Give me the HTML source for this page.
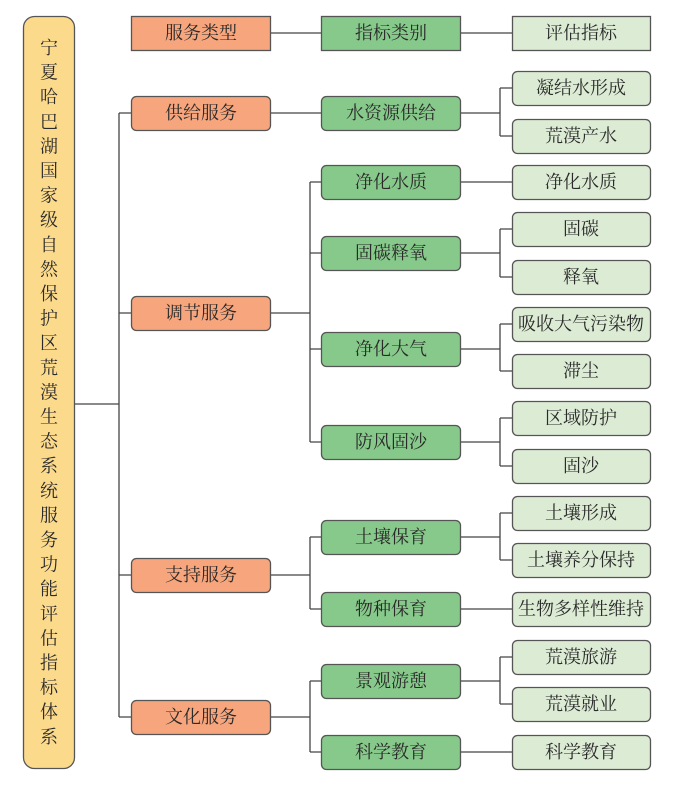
<!DOCTYPE html>
<html><head><meta charset="utf-8"><style>
html,body{margin:0;padding:0;background:#fff;width:684px;height:787px;overflow:hidden}
svg text{font-family:"Liberation Serif","Noto Serif CJK SC","Noto Sans CJK SC",serif;font-size:18px;fill:#2a2a2a;text-anchor:middle;dominant-baseline:central}
</style></head><body>
<svg width="684" height="787" viewBox="0 0 684 787" xmlns="http://www.w3.org/2000/svg">
<g stroke="#444" stroke-width="1.3" fill="none">
<path d="M74 404H119M119 113V717M119 113H131M119 313H131M119 575H131M119 717H131"/>
<path d="M270 33H321M460 33H512"/>
<path d="M270 113H321M460 113H500M500 88V136M500 88H512M500 136H512"/>
<path d="M270 313H310M310 182V442M310 182H321M310 253H321M310 349H321M310 442H321"/>
<path d="M460 182H512"/>
<path d="M460 253H500M500 229V277M500 229H512M500 277H512"/>
<path d="M460 349H500M500 324V371M500 324H512M500 371H512"/>
<path d="M460 442H500M500 418V466M500 418H512M500 466H512"/>
<path d="M270 575H310M310 537V609M310 537H321M310 609H321"/>
<path d="M460 537H500M500 513V560M500 513H512M500 560H512"/>
<path d="M460 609H512"/>
<path d="M270 717H310M310 681V752M310 681H321M310 752H321"/>
<path d="M460 681H500M500 657V704M500 657H512M500 704H512"/>
<path d="M460 752H512"/>
</g>
<rect x="23.5" y="16.5" width="51" height="752" rx="11" fill="#fcda8c" stroke="#555" stroke-width="1.3"/>
<g stroke="#555" stroke-width="1.3">
<rect x="131.5" y="16.5" width="139" height="34" fill="#f6a57c"/>
<rect x="321.5" y="16.5" width="139" height="34" fill="#86c98a"/>
<rect x="512.5" y="16.5" width="138" height="34" fill="#dcebd4"/>
<g fill="#f6a57c">
<rect x="131.5" y="96.5" width="139" height="34" rx="5"/>
<rect x="131.5" y="296.5" width="139" height="34" rx="5"/>
<rect x="131.5" y="558.5" width="139" height="34" rx="5"/>
<rect x="131.5" y="700.5" width="139" height="34" rx="5"/>
</g>
<g fill="#86c98a">
<rect x="321.5" y="96.5" width="139" height="34" rx="5"/>
<rect x="321.5" y="165.5" width="139" height="34" rx="5"/>
<rect x="321.5" y="236.5" width="139" height="34" rx="5"/>
<rect x="321.5" y="332.5" width="139" height="34" rx="5"/>
<rect x="321.5" y="425.5" width="139" height="34" rx="5"/>
<rect x="321.5" y="520.5" width="139" height="34" rx="5"/>
<rect x="321.5" y="592.5" width="139" height="34" rx="5"/>
<rect x="321.5" y="664.5" width="139" height="34" rx="5"/>
<rect x="321.5" y="735.5" width="139" height="34" rx="5"/>
</g>
<g fill="#dcebd4">
<rect x="512.5" y="71.5" width="138" height="34" rx="5"/>
<rect x="512.5" y="119.5" width="138" height="34" rx="5"/>
<rect x="512.5" y="165.5" width="138" height="34" rx="5"/>
<rect x="512.5" y="212.5" width="138" height="34" rx="5"/>
<rect x="512.5" y="260.5" width="138" height="34" rx="5"/>
<rect x="512.5" y="307.5" width="138" height="34" rx="5"/>
<rect x="512.5" y="354.5" width="138" height="34" rx="5"/>
<rect x="512.5" y="401.5" width="138" height="34" rx="5"/>
<rect x="512.5" y="449.5" width="138" height="34" rx="5"/>
<rect x="512.5" y="496.5" width="138" height="34" rx="5"/>
<rect x="512.5" y="543.5" width="138" height="34" rx="5"/>
<rect x="512.5" y="592.5" width="138" height="34" rx="5"/>
<rect x="512.5" y="640.5" width="138" height="34" rx="5"/>
<rect x="512.5" y="687.5" width="138" height="34" rx="5"/>
<rect x="512.5" y="735.5" width="138" height="34" rx="5"/>
</g>
</g>
<g>
<text x="201" y="33">服务类型</text><text x="391" y="33">指标类别</text><text x="581" y="33">评估指标</text>
<text x="201" y="113">供给服务</text><text x="201" y="313">调节服务</text><text x="201" y="575">支持服务</text><text x="201" y="717">文化服务</text>
<text x="391" y="113">水资源供给</text><text x="391" y="182">净化水质</text><text x="391" y="253">固碳释氧</text><text x="391" y="349">净化大气</text><text x="391" y="442">防风固沙</text><text x="391" y="537">土壤保育</text><text x="391" y="609">物种保育</text><text x="391" y="681">景观游憩</text><text x="391" y="752">科学教育</text>
<text x="581" y="88">凝结水形成</text><text x="581" y="136">荒漠产水</text><text x="581" y="182">净化水质</text><text x="581" y="229">固碳</text><text x="581" y="277">释氧</text><text x="581" y="324">吸收大气污染物</text><text x="581" y="371">滞尘</text><text x="581" y="418">区域防护</text><text x="581" y="466">固沙</text><text x="581" y="513">土壤形成</text><text x="581" y="560">土壤养分保持</text><text x="581" y="609">生物多样性维持</text><text x="581" y="657">荒漠旅游</text><text x="581" y="704">荒漠就业</text><text x="581" y="752">科学教育</text>
</g>
<g style="font-size:20px">
<text x="49" y="48">宁</text><text x="49" y="72.6">夏</text><text x="49" y="97.2">哈</text><text x="49" y="121.8">巴</text><text x="49" y="146.4">湖</text><text x="49" y="171">国</text><text x="49" y="195.6">家</text><text x="49" y="220.2">级</text><text x="49" y="244.8">自</text><text x="49" y="269.4">然</text><text x="49" y="294">保</text><text x="49" y="318.6">护</text><text x="49" y="343.2">区</text><text x="49" y="367.8">荒</text><text x="49" y="392.4">漠</text><text x="49" y="417">生</text><text x="49" y="441.6">态</text><text x="49" y="466.2">系</text><text x="49" y="490.8">统</text><text x="49" y="515.4">服</text><text x="49" y="540">务</text><text x="49" y="564.6">功</text><text x="49" y="589.2">能</text><text x="49" y="613.8">评</text><text x="49" y="638.4">估</text><text x="49" y="663">指</text><text x="49" y="687.6">标</text><text x="49" y="712.2">体</text><text x="49" y="736.8">系</text>
</g>
</svg>
</body></html>
